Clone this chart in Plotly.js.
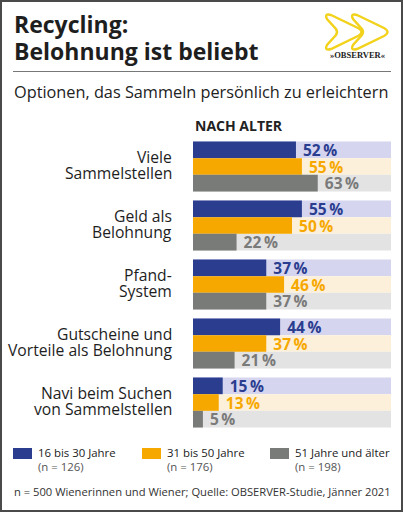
<!DOCTYPE html>
<html>
<head>
<meta charset="utf-8">
<script src="https://cdn.plot.ly/plotly-3.0.1.min.js"></script>
<style>
html,body{margin:0;padding:0;background:#fff;}
#chart{width:403px;height:512px;}
</style>
</head>
<body>
<div id="chart"></div>
<script>
// ---- data ----
var categories = ["Viele<br>Sammelstellen", "Geld als<br>Belohnung", "Pfand-<br>System", "Gutscheine und<br>Vorteile als Belohnung", "Navi beim Suchen<br>von Sammelstellen"];
var age16to30 = [52, 55, 37, 44, 15];
var age31to50 = [55, 50, 46, 37, 13];
var age51plus = [63, 22, 37, 21, 5];
var trackMax = [100, 100, 100, 100, 100];
var seriesNames = ["16 bis 30 Jahre", "31 bis 50 Jahre", "51 Jahre und älter"];
var sampleSizes = ["(n = 126)", "(n = 176)", "(n = 198)"];
var titleLines = ["Recycling:", "Belohnung ist beliebt"];
var subtitleText = "Optionen, das Sammeln persönlich zu erleichtern";
var groupTitle = "NACH ALTER";
var sourceText = "n = 500 Wienerinnen und Wiener; Quelle: OBSERVER-Studie, Jänner 2021";

// ---- styles ----
var barColors = ["#2a3d8f", "#f6a800", "#787b77"];
var textColors = ["#2a3d8f", "#f6a800", "#7a7a7a"];
var trackColors = ["#d5d5ef", "#fdf0da", "#e3e3e3"];
var FONT = "Open Sans, sans-serif";

var W = 403, H = 512, ML = 193, MR = 12, MT = 137, MB = 80;
var PW = W - ML - MR, PH = H - MT - MB;
function X(px){ return (px - ML) / PW; }
function Y(py){ return (H - MB - py) / PH; }

var seriesValues = [age16to30, age31to50, age51plus];
var traces = [];
for (var i = 0; i < 3; i++) {
  traces.push({
    type: "bar", orientation: "h", y: categories, x: trackMax,
    marker: {color: trackColors[i], line: {width: 0}},
    xaxis: "x", yaxis: "y", hoverinfo: "skip", showlegend: false
  });
}
for (var j = 0; j < 3; j++) {
  traces.push({
    type: "bar", orientation: "h", y: categories, x: seriesValues[j],
    name: seriesNames[j],
    marker: {color: barColors[j], line: {width: 0}},
    text: seriesValues[j].map(function(v){ return "\u00a0" + v + "\u2009%"; }),
    textposition: "outside", constraintext: "none", cliponaxis: false,
    outsidetextfont: {family: FONT, size: 15.5, color: textColors[j], weight: 700},
    xaxis: "x", yaxis: "y2", hoverinfo: "skip", showlegend: false
  });
}

var annotations = [
  {text: titleLines[0], x: X(12), y: Y(24), xanchor: "left", yanchor: "middle",
   font: {family: FONT, size: 23, color: "#1e1e1e", weight: 700}},
  {text: titleLines[1], x: X(12), y: Y(50.5), xanchor: "left", yanchor: "middle",
   font: {family: FONT, size: 23, color: "#1e1e1e", weight: 700}},
  {text: subtitleText, x: X(12), y: Y(92), xanchor: "left", yanchor: "middle",
   font: {family: FONT, size: 16.3, color: "#222"}},
  {text: groupTitle, x: X(193), y: Y(125.5), xanchor: "left", yanchor: "middle",
   font: {family: FONT, size: 14, color: "#222", weight: 700}},
  {text: "\u00bbOBSERVER\u00ab", x: X(357.5), y: Y(55), xanchor: "center", yanchor: "middle",
   font: {family: "Liberation Serif, serif", size: 8.5, color: "#222", weight: 700}},
  {text: sourceText, x: X(12), y: Y(492), xanchor: "left", yanchor: "middle",
   font: {family: FONT, size: 11.2, color: "#333"}}
];

// category labels, two lines each, placed on the category axis
categories.forEach(function(c, idx){
  var lines = c.split("<br>");
  var shifts = [10, -6.5];
  lines.forEach(function(t, li){
    annotations.push({text: t, xref: "x", yref: "y", x: 0, y: idx, xanchor: "right", yanchor: "middle",
      xshift: -19, yshift: shifts[li], font: {family: FONT, size: 15.7, color: "#1e1e1e"}});
  });
});

var legendX = [13, 142, 270];
var shapes = [
  {type: "rect", xref: "paper", yref: "paper", x0: X(1), x1: X(402), y0: Y(1), y1: Y(511),
   line: {color: "#4a4a4a", width: 2}, fillcolor: "rgba(0,0,0,0)"},
  {type: "line", xref: "paper", yref: "paper", x0: X(13), x1: X(391), y0: Y(71.5), y1: Y(71.5),
   line: {color: "#777", width: 1}}
];
for (var k = 0; k < 3; k++) {
  shapes.push({type: "rect", xref: "paper", yref: "paper",
    x0: X(legendX[k]), x1: X(legendX[k] + 19), y0: Y(448), y1: Y(459),
    fillcolor: barColors[k], line: {width: 0}});
  annotations.push({text: seriesNames[k], x: X(legendX[k] + 23), y: Y(452.5), xanchor: "left", yanchor: "middle",
    font: {family: FONT, size: 11.4, color: "#222"}});
  annotations.push({text: sampleSizes[k], x: X(legendX[k] + 23), y: Y(466.5), xanchor: "left", yanchor: "middle",
    font: {family: FONT, size: 11.4, color: "#555"}});
}

function chevron(dx){
  var p = [[331,15],[358,28],[365,32],[358,36],[331,49],[324,51],[327,45],[336,35],[338,32],[336,29],[327,19],[324,13],[331,15]];
  function pt(a){ return X(a[0] + dx).toFixed(4) + "," + Y(a[1]).toFixed(4); }
  return "M" + pt(p[0]) + " L" + pt(p[1]) + " Q" + pt(p[2]) + " " + pt(p[3]) +
         " L" + pt(p[4]) + " Q" + pt(p[5]) + " " + pt(p[6]) + " L" + pt(p[7]) +
         " Q" + pt(p[8]) + " " + pt(p[9]) + " L" + pt(p[10]) + " Q" + pt(p[11]) + " " + pt(p[12]) + " Z";
}
[0, 26].forEach(function(dx){
  shapes.push({type: "path", xref: "paper", yref: "paper", path: chevron(dx),
    line: {color: "#f2d21b", width: 2.4}, fillcolor: "rgba(0,0,0,0)"});
});

annotations.forEach(function(a){
  if (!a.xref) { a.xref = "paper"; a.yref = "paper"; }
  a.showarrow = false;
});

var layout = {
  width: W, height: H,
  margin: {l: ML, r: MR, t: MT, b: MB, pad: 0, autoexpand: false},
  paper_bgcolor: "#fff", plot_bgcolor: "#fff",
  barmode: "group", bargap: 9 / 59, bargroupgap: 0,
  showlegend: false,
  xaxis: {range: [0, 100], visible: false, fixedrange: true},
  yaxis: {type: "category", autorange: "reversed", showgrid: false, zeroline: false, showline: false,
          showticklabels: false, ticks: ""},
  yaxis2: {type: "category", overlaying: "y", matches: "y", autorange: "reversed", showticklabels: false,
           showgrid: false, zeroline: false, showline: false, ticks: ""},
  annotations: annotations,
  shapes: shapes,
  font: {family: FONT}
};

Plotly.newPlot("chart", traces, layout, {staticPlot: true, displayModeBar: false});
</script>
</body>
</html>
